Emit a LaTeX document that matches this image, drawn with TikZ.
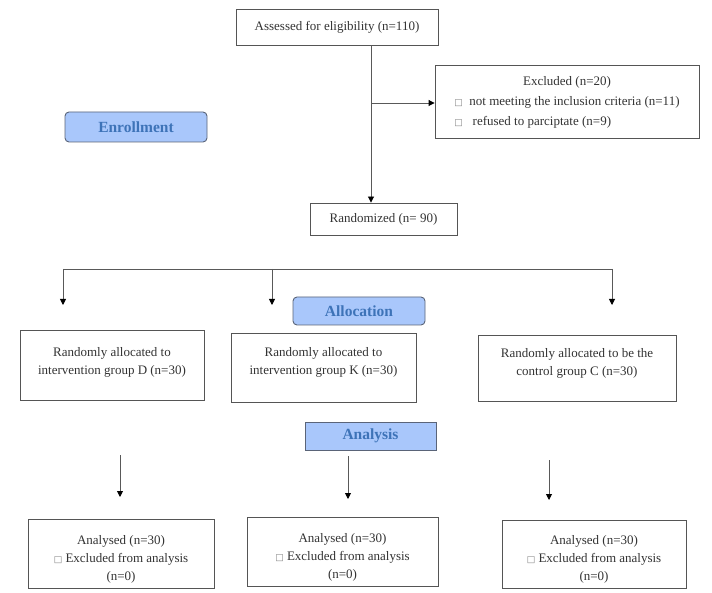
\documentclass[tikz,border=0pt]{standalone}
\usepackage{fontspec}
\setmainfont{Liberation Serif}
\newfontfamily\symfont{DejaVu Sans}
\usetikzlibrary{arrows.meta}
\definecolor{lblfill}{HTML}{A9C7FB}
\definecolor{lbltext}{HTML}{3D73B8}
\definecolor{lbldraw}{HTML}{5A6478}
\definecolor{boxdraw}{HTML}{555555}
\newcommand{\cb}{{\symfont\color{gray}\small □}}
\newcommand{\tallstrut}{\rule{0pt}{20pt}}
\tikzset{
  flowbox/.style={draw=boxdraw, line width=0.9pt, fill=white, inner sep=2pt, align=center, font=\fontsize{13}{18}\selectfont, text=black!80},
  stagelbl/.style={draw=lbldraw, line width=0.9pt, fill=lblfill, text=lbltext, font=\fontsize{15.5}{17}\selectfont\bfseries, inner sep=0pt},
  conn/.style={draw=black!65, line width=0.9pt},
  arr/.style={conn, -{Triangle[length=6pt,width=6pt,color=black]}}
}
\begin{document}
\begin{tikzpicture}[x=1pt,y=-1pt]
\useasboundingbox (0,0) rectangle (712,593);
% boxes
\node[flowbox, minimum width=202pt, minimum height=36pt] (assess) at (337,27) {Assessed for eligibility (n=110)};
\node[flowbox, minimum width=264pt, minimum height=73pt] (excl) at (567,101.5) {\begin{tabular}{@{}l@{}}\multicolumn{1}{@{}c@{}}{Excluded (n=20)}\\[2pt]
\cb\ \ not meeting the inclusion criteria (n=11)\\[2pt]
\cb\ \ \ refused to parciptate (n=9)\end{tabular}};
\node[stagelbl, rounded corners=4pt, minimum width=142pt, minimum height=30pt] (enroll) at (136,127) {Enrollment};
\node[flowbox, minimum width=147pt, minimum height=32pt] (rand) at (383.5,219) {Randomized (n= 90)};
\node[stagelbl, rounded corners=4pt, minimum width=132pt, minimum height=28pt] (alloc) at (359,311) {Allocation};
\node[flowbox, minimum width=184pt, minimum height=70pt] (gd) at (112,365) {Randomly allocated to\\intervention group D (n=30)\\[-10pt]};
\node[flowbox, minimum width=185pt, minimum height=69pt] (gk) at (323.5,367.5) {Randomly allocated to\\intervention group K (n=30)\\[-5pt]};
\node[flowbox, minimum width=198pt, minimum height=66pt] (gc) at (577,368) {Randomly allocated to be the\\control group C (n=30)\\[-6pt]};
\node[stagelbl, minimum width=131pt, minimum height=28pt] (anal) at (370.5,436) {Analysis};
\node[flowbox, minimum width=186pt, minimum height=69pt] (ad) at (121,553.5) {\tallstrut Analysed (n=30)\\\cb\ Excluded from analysis\\(n=0)};
\node[flowbox, minimum width=191pt, minimum height=69pt] (ak) at (342.5,551.5) {\tallstrut Analysed (n=30)\\\cb\ Excluded from analysis\\(n=0)};
\node[flowbox, minimum width=184pt, minimum height=68pt] (ac) at (594,554) {\tallstrut Analysed (n=30)\\\cb\ Excluded from analysis\\(n=0)};
% connectors
\coordinate (split) at (371,103);
\draw[conn] (assess.south -| split) -- (split);
\draw[arr] (split) -- (rand.north -| split);
\draw[arr] (split) -- (excl.west |- split);
\coordinate (hl) at (63,269);
\coordinate (hm) at (272,269);
\coordinate (hr) at (612,269);
\coordinate (el) at (63,305);
\coordinate (em) at (272,305);
\coordinate (er) at (612,305);
\draw[conn] (hl) -- (hr);
\draw[arr] (hl) -- (el);
\draw[arr] (hm) -- (em);
\draw[arr] (hr) -- (er);
\coordinate (s1) at (120,455);
\coordinate (e1) at (120,497);
\coordinate (s2) at (348,456);
\coordinate (e2) at (348,499);
\coordinate (s3) at (549,460);
\coordinate (e3) at (549,500);
\draw[arr] (s1) -- (e1);
\draw[arr] (s2) -- (e2);
\draw[arr] (s3) -- (e3);
\end{tikzpicture}
\end{document}
